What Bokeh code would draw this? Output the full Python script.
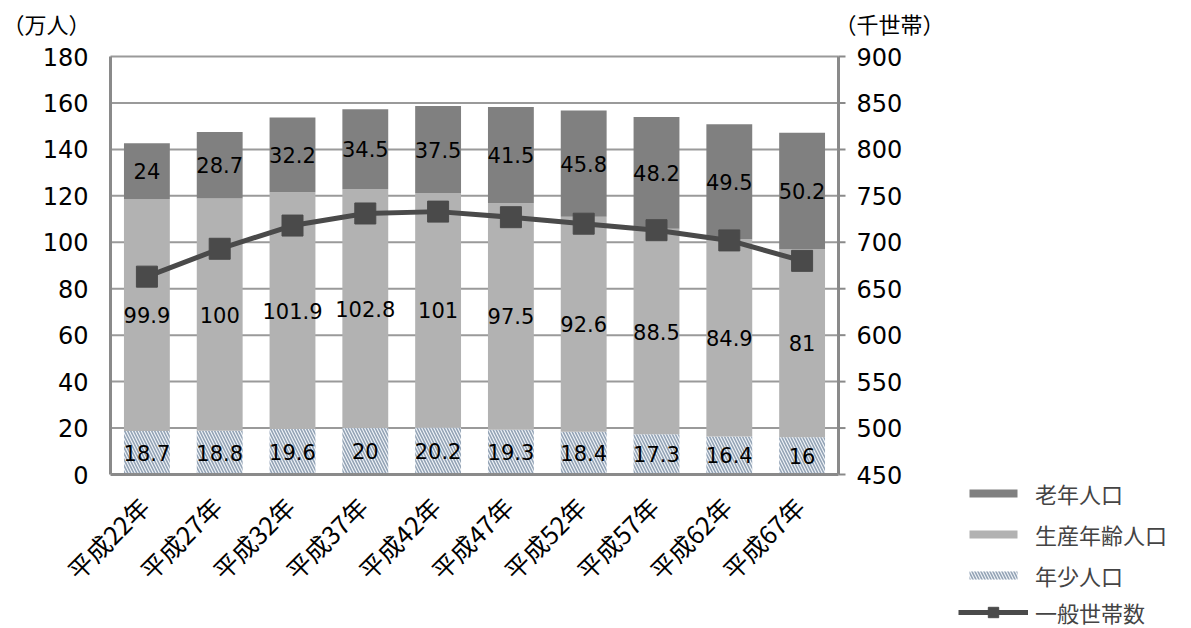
from bokeh.plotting import figure
from bokeh.models import ColumnDataSource, Range1d, Legend, LegendItem, Label
from bokeh.core.properties import value
from bokeh.embed import file_html
from bokeh.resources import INLINE
import numpy as np
import math

# --- data ---------------------------------------------------------------
years = ["平成22年", "平成27年", "平成32年", "平成37年", "平成42年",
         "平成47年", "平成52年", "平成57年", "平成62年", "平成67年"]
young = [18.7, 18.8, 19.6, 20, 20.2, 19.3, 18.4, 17.3, 16.4, 16]          # 年少人口
working = [99.9, 100, 101.9, 102.8, 101, 97.5, 92.6, 88.5, 84.9, 81]      # 生産年齢人口
elderly = [24, 28.7, 32.2, 34.5, 37.5, 41.5, 45.8, 48.2, 49.5, 50.2]      # 老年人口
households = [663, 693, 718, 731, 733, 727, 720, 713, 702, 680]          # 一般世帯数（千世帯）

left_ticks = [0, 20, 40, 60, 80, 100, 120, 140, 160, 180]
right_ticks = [450, 500, 550, 600, 650, 700, 750, 800, 850, 900]

# --- canvas geometry: the plotting box sits inside a full-size frame --------
CW, CH = 1191, 628
BOX_L, BOX_R, BOX_T, BOX_B = 110, 838, 56, 474
n = len(years)

px_x = (BOX_R - BOX_L) / n
x_rng = Range1d(-BOX_L / px_x, (CW - BOX_L) / px_x)

lo, hi = left_ticks[0], left_ticks[-1]
px_y = (BOX_B - BOX_T) / (hi - lo)
y_rng = Range1d(lo - (CH - BOX_B) / px_y, hi + BOX_T / px_y)

rlo, rhi = right_ticks[0], right_ticks[-1]
px_r = (BOX_B - BOX_T) / (rhi - rlo)
r_rng = Range1d(rlo - (CH - BOX_B) / px_r, rhi + BOX_T / px_r)

# --- stacked positions ----------------------------------------------------
xs = np.arange(n) + 0.5
y0 = np.zeros(n)
y1 = y0 + np.array(young)
y2 = y1 + np.array(working)
y3 = y2 + np.array(elderly)

src = ColumnDataSource(dict(
    x=xs, cat=years,
    b0=y0, t0=y1, m0=(y0 + y1) / 2, l0=[f"{v:g}" for v in young],
    b1=y1, t1=y2, m1=(y1 + y2) / 2, l1=[f"{v:g}" for v in working],
    b2=y2, t2=y3, m2=(y2 + y3) / 2, l2=[f"{v:g}" for v in elderly],
    hh=households,
))

JP_NAME = "Noto Sans CJK JP"
JP = value(JP_NAME)
NUM = value("DejaVu Sans")
GRID = "#9a9a9a"
AXIS = "#8a8a8a"
LINE = "#4a4a4a"

p = figure(width=CW, height=CH, x_range=x_rng, y_range=y_rng,
           x_axis_location=None, y_axis_location=None, title=None,
           output_backend="svg", toolbar_location=None, min_border=0)
p.outline_line_color = None
p.background_fill_color = "white"
p.border_fill_color = "white"
p.grid.visible = False
p.extra_y_ranges = {"hh": r_rng}

# horizontal grid lines (the 180 line closes the box at the top)
p.segment(x0=0, x1=n, y0=left_ticks[1:], y1=left_ticks[1:],
          line_color=GRID, line_width=2)

W = 0.63
r_young = p.vbar(x="x", bottom="b0", top="t0", width=W, source=src,
                 fill_color="#f1f4f8", line_color=None,
                 hatch_pattern="\\", hatch_color="#93a3b5",
                 hatch_scale=6, hatch_weight=1.6)
r_work = p.vbar(x="x", bottom="b1", top="t1", width=W, source=src,
                fill_color="#b2b2b2", line_color=None)
r_old = p.vbar(x="x", bottom="b2", top="t2", width=W, source=src,
               fill_color="#808080", line_color=None)

# axis lines: left, right, bottom
p.segment(x0=[0, n], x1=[0, n], y0=lo, y1=hi, line_color=AXIS, line_width=3)
p.segment(x0=0, x1=n, y0=lo, y1=lo, line_color=AXIS, line_width=3)
# outward ticks of the household axis
p.segment(x0=n, x1=n + 7 / px_x, y0=right_ticks, y1=right_ticks,
          y_range_name="hh", line_color=AXIS, line_width=2)

r_line = p.line(x="x", y="hh", source=src, y_range_name="hh",
                line_color=LINE, line_width=5)
r_mark = p.scatter(x="x", y="hh", source=src, y_range_name="hh",
                   marker="square", size=21, fill_color=LINE,
                   line_color=LINE)

# value labels in the middle of each segment
for m, l in (("m0", "l0"), ("m1", "l1"), ("m2", "l2")):
    p.text(x="x", y=m, text=l, source=src, text_align="center",
           text_baseline="middle", text_font=NUM,
           text_font_size="21px", text_color="black")

# tick labels
p.text(x=0, y=left_ticks, text=[str(t) for t in left_ticks], x_offset=-22,
       text_align="right", text_baseline="middle", text_font=NUM,
       text_font_size="24px", text_color="black")
p.text(x=n, y=right_ticks, text=[str(t) for t in right_ticks], x_offset=18,
       y_range_name="hh", text_align="left", text_baseline="middle",
       text_font=NUM, text_font_size="24px", text_color="black")
p.text(x="x", y=lo, text="cat", source=src, angle=math.pi / 4,
       x_offset=-3, y_offset=27, text_align="right", text_baseline="middle",
       text_font=JP, text_font_size="25px", text_color="black")

# unit captions (screen offsets from the lower-left corner)
p.add_layout(Label(x=2, y=CH - 38, x_units="screen", y_units="screen",
                   text="（万人）", text_font=JP_NAME,
                   text_font_size="22px", text_color="black"))
p.add_layout(Label(x=834, y=CH - 38, x_units="screen", y_units="screen",
                   text="（千世帯）", text_font=JP_NAME,
                   text_font_size="22px", text_color="black"))

# legend: bar series
legend_bars = Legend(items=[
    LegendItem(label="老年人口", renderers=[r_old]),
    LegendItem(label="生産年齢人口", renderers=[r_work]),
    LegendItem(label="年少人口", renderers=[r_young]),
], location=(963, 37), orientation="vertical",
    glyph_width=60, glyph_height=10, label_height=32, spacing=9,
    padding=0, margin=0, label_standoff=12,
    label_text_font=JP_NAME, label_text_font_size="22px",
    border_line_color=None, background_fill_alpha=0)
p.add_layout(legend_bars, "center")

# legend: household line with its marker
legend_line = Legend(items=[
    LegendItem(label="一般世帯数", renderers=[r_line, r_mark]),
], location=(958, 0), orientation="vertical",
    glyph_width=70, glyph_height=26, label_height=28, spacing=0,
    padding=0, margin=0, label_standoff=7,
    label_text_font=JP_NAME, label_text_font_size="22px",
    border_line_color=None, background_fill_alpha=0)
p.add_layout(legend_line, "center")

open("out.html", "w").write(file_html(p, INLINE))
